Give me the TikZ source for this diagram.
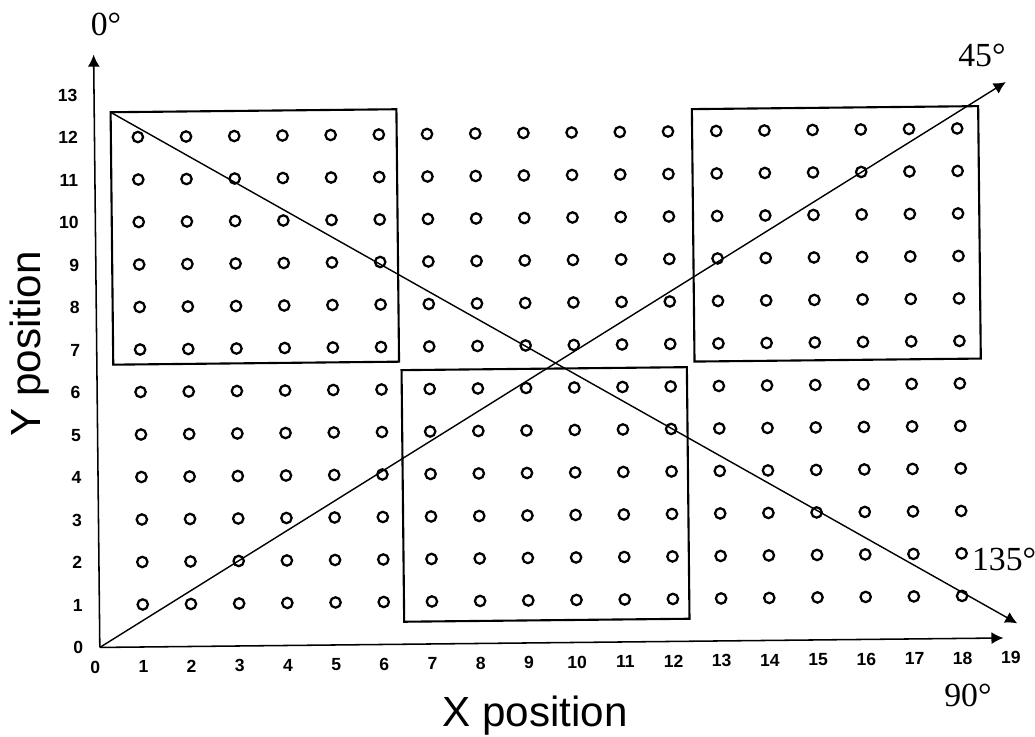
\documentclass[tikz,border=0pt]{standalone}
\usepackage{fontspec}
\usepackage{tikz}
\usetikzlibrary{arrows.meta}
\newfontfamily\axisfont{Liberation Sans}
\newfontfamily\anglefont{Liberation Serif}

\begin{document}
\begin{tikzpicture}[x=1.205cm, y=1.0625cm, % one unit = one grid step
    ticklabel/.style={font=\axisfont\bfseries\fontsize{12.5}{12.5}\selectfont, inner sep=0pt},
    anglelabel/.style={font=\anglefont\fontsize{24}{24}\selectfont, inner sep=0pt},
    axislabel/.style={font=\axisfont\fontsize{30}{30}\selectfont, inner sep=0pt},
    sample/.style={line width=1.6pt},
    region/.style={line width=1.5pt},
    axisarrow/.style={line width=1.1pt, -{Latex[length=3mm, width=3mm]}}]

    % Frame of the whole figure
    \useasboundingbox (-1.971,-2.106) rectangle (19.502,15.235);

    \begin{scope}[rotate=0.6] % the scanned plot is tilted a little

    % Axes
    \coordinate (origin) at (0.1,0);
    \coordinate (ytip) at (0.1,13.95);
    \coordinate (xtip) at (18.85,0);
    \draw[axisarrow] (origin) -- (ytip);
    \draw[axisarrow] (origin) -- (xtip);

    % Tick labels
    \foreach \i in {0,...,19}
        \node[ticklabel] (xt\i) at (\i,-0.46) {\i};
    \foreach \j in {0,...,13}
        \node[ticklabel, anchor=east] (yt\j) at (-0.24,\j) {\j};

    % Sample points
    \foreach \i in {1,...,18}
        \foreach \j in {1,...,12}
            \draw[sample] (\i,\j) circle (0.13cm);

    % Regions
    \draw[region] (0.44,6.65) rectangle (6.37,12.59); % upper left
    \draw[region] (6.42,0.53) rectangle (12.34,6.45); % lower middle
    \draw[region] (12.5,6.58) rectangle (18.44,12.52); % upper right

    % Scan directions
    \coordinate (nw) at (0.44,12.59);
    \coordinate (se) at (19.14,0.34);
    \coordinate (ne) at (19.02,13.08);
    \draw[axisarrow, line width=1pt] (nw) -- (se); % 0 to 135
    \draw[axisarrow, line width=1pt] (origin) -- (ne); % 0 to 45

    \end{scope}

    % Angle labels
    \node[anglelabel] (a0) at (0.228,14.67) {0°};
    \node[anglelabel] (a45) at (18.40,13.94) {45°};
    \node[anglelabel] (a135) at (18.86,2.06) {135°};
    \node[anglelabel] (a90) at (18.11,-1.12) {90°};

    % Axis titles
    \node[axislabel, anchor=base] (xlab) at (9.13,-1.87) {X position};
    \node[axislabel, anchor=base, rotate=90] (ylab) at (-1.125,7.14) {Y position};

\end{tikzpicture}
\end{document}
